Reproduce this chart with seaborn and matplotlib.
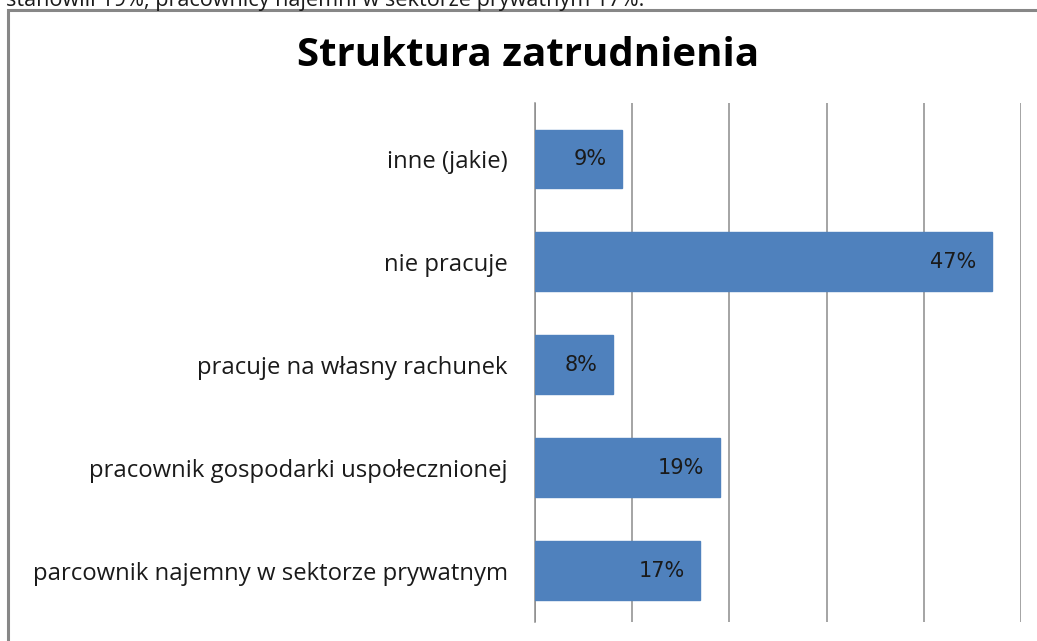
import matplotlib
matplotlib.use("Agg")
import matplotlib.pyplot as plt
from matplotlib.patches import Rectangle
import seaborn as sns
import pandas as pd

categories = [
    "inne (jakie)",
    "nie pracuje",
    "pracuje na własny rachunek",
    "pracownik gospodarki uspołecznionej",
    "parcownik najemny w sektorze prywatnym",
]
shares = [9, 47, 8, 19, 17]
x_ticks = [0, 10, 20, 30, 40, 50]
title = "Struktura zatrudnienia"
caption = "stanowili 19%, pracownicy najemni w sektorze prywatnym 17%."

sns.set_theme(style="white")
plt.rcParams["font.family"] = ["Open Sans", "DejaVu Sans"]

W, H = 1037, 641
fig = plt.figure(figsize=(W / 100, H / 100), dpi=100)
fig.patch.set_facecolor("white")

# chart frame (extends past the lower and right edges)
fig.patches.append(Rectangle((8 / W, -0.05), 1.2, 1 - 10 / H + 0.05,
                             transform=fig.transFigure, fill=False,
                             edgecolor="#878787", linewidth=2.2, zorder=0))

# running text above the chart, cut by the top edge
fig.text(6 / W, 1 - 6 / H, caption, ha="left", va="baseline",
         fontsize=15.6, color="#1a1a1a")

ax = fig.add_axes([535 / W, 1 - 622 / H, (1021 - 535) / W, (622 - 103) / H])
df = pd.DataFrame({"kategoria": categories, "udzial": shares})
sns.barplot(data=df, x="udzial", y="kategoria", orient="h", ax=ax,
            color="#4F81BD", saturation=1, width=0.565, zorder=3)
for p in ax.patches:
    p.set_edgecolor("#4F81BD")

ax.set_xlim(0, 50)
ax.set_ylim(4.5, -0.54)
ax.set_xticks(x_ticks)
ax.set_xticklabels([])
ax.grid(axis="x", color="#8c8c8c", linewidth=1.1, zorder=0)
ax.grid(axis="y", visible=False)
for s in ["top", "right", "bottom"]:
    ax.spines[s].set_visible(False)
ax.spines["left"].set_color("#8c8c8c")
ax.spines["left"].set_linewidth(1.1)
ax.set_xlabel("")
ax.set_ylabel("")
ax.tick_params(axis="y", length=0, pad=19.5, labelsize=17.2, labelcolor="#1a1a1a")
ax.tick_params(axis="x", length=0)

for i, v in enumerate(shares):
    ax.annotate(f"{v}%", xy=(v, i), xytext=(-11, 0), textcoords="offset points",
                ha="right", va="center", fontsize=15, color="#1a1a1a", zorder=4,
                family=["DejaVu Sans"])

fig.text((297 + 760) / 2 / W, 1 - 56 / H, title, ha="center", va="center",
         fontsize=29, fontweight="bold", color="black")

fig.savefig("out.png", dpi=100, facecolor="white")
